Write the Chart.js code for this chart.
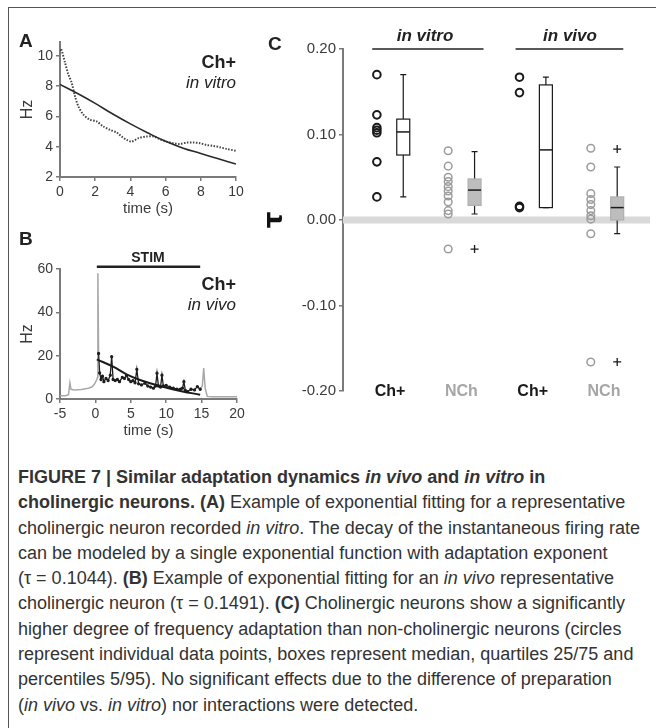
<!DOCTYPE html>
<html>
<head>
<meta charset="utf-8">
<script src="https://cdn.jsdelivr.net/npm/chart.js@4.4.0/dist/chart.umd.min.js"></script>
<style>
    body { margin: 0; width: 656px; height: 728px; overflow: hidden; position: relative; background: #fff;
           font-family: "Liberation Sans", Arial, sans-serif; color: #222; }
    #marco { position: absolute; left: 8px; top: 7px; width: 700px; height: 800px;
             border-left: 1px solid #555; border-top: 1px solid #555; }
    canvas { position: absolute; }
    .txt { position: absolute; white-space: nowrap; line-height: 1; }
    .letra { font-weight: bold; font-size: 19px; }
    #leyenda { position: absolute; left: 18px; top: 465px; font-size: 18px; line-height: 25.3px;
               color: #333; white-space: nowrap; }
</style>
</head>
<body>
<div id="marco"></div>

<canvas id="graficoA" width="260" height="200" style="left:0;top:30px"></canvas>
<canvas id="graficoB" width="260" height="200" style="left:0;top:250px"></canvas>
<canvas id="graficoC" width="396" height="420" style="left:260px;top:0"></canvas>

<div class="txt letra" style="left:19px;top:31px">A</div>
<div class="txt" style="left:150px;width:86px;top:53px;font-weight:bold;font-size:18px;text-align:right">Ch+</div>
<div class="txt" style="left:150px;width:86px;top:74px;font-style:italic;font-size:17px;text-align:right">in vitro</div>

<div class="txt letra" style="left:19px;top:229px">B</div>
<div class="txt" style="left:108px;width:80px;top:250px;font-weight:bold;font-size:14px;text-align:center">STIM</div>
<div class="txt" style="left:150px;width:86px;top:275px;font-weight:bold;font-size:18px;text-align:right">Ch+</div>
<div class="txt" style="left:150px;width:86px;top:296px;font-style:italic;font-size:17px;text-align:right">in vivo</div>

<div class="txt letra" style="left:268px;top:34px">C</div>
<div class="txt" style="left:375px;width:100px;top:27px;font-weight:bold;font-style:italic;font-size:17px;text-align:center">in vitro</div>
<div class="txt" style="left:520px;width:100px;top:27px;font-weight:bold;font-style:italic;font-size:17px;text-align:center">in vivo</div>

<div id="leyenda">
<b>FIGURE 7 | Similar adaptation dynamics <i>in vivo</i> and <i>in vitro</i> in</b><br>
<b>cholinergic neurons. (A)</b> Example of exponential fitting for a representative<br>
cholinergic neuron recorded <i>in vitro</i>. The decay of the instantaneous firing rate<br>
can be modeled by a single exponential function with adaptation exponent<br>
(τ = 0.1044). <b>(B)</b> Example of exponential fitting for an <i>in vivo</i> representative<br>
cholinergic neuron (τ = 0.1491). <b>(C)</b> Cholinergic neurons show a significantly<br>
higher degree of frequency adaptation than non-cholinergic neurons (circles<br>
represent individual data points, boxes represent median, quartiles 25/75 and<br>
percentiles 5/95). No significant effects due to the difference of preparation<br>
(<i>in vivo</i> vs. <i>in vitro</i>) nor interactions were detected.
</div>

<script>
// Panel A: frecuencia instantanea in vitro y su ajuste
const tiempoA = [0, 0.06, 0.28, 0.47, 0.66, 0.85, 1.04, 1.33, 1.7, 2.08, 2.46, 2.84, 3.22, 3.5, 3.79,
    4.07, 4.45, 4.92, 5.3, 5.68, 6.06, 6.44, 6.8, 7.2, 7.58, 7.95, 8.33, 8.71, 9.09, 9.47, 10];
const frecuenciaA = [10.3, 10.45, 9.56, 8.78, 8.23, 7.33, 6.67, 6.11, 5.78, 5.67, 5.33, 5.11, 4.93, 4.67, 4.45,
    4.33, 4.56, 4.67, 4.67, 4.49, 4.33, 4.23, 4.18, 4.27, 4.27, 4.23, 4.11, 4.05, 3.96, 3.85, 3.73];
const tiempoAjusteA = [0, 1, 2, 3, 4, 5, 6, 7, 8, 9, 10];
const ajusteA = [8.1, 7.5, 6.85, 6.15, 5.5, 4.9, 4.35, 3.9, 3.55, 3.2, 2.85];
const ticksXA = [0, 2, 4, 6, 8, 10];
const ticksYA = [2, 4, 6, 8, 10];

// Panel B: registro in vivo
const tiempoGrisB = [-5, -4.2, -3.8, -3.6, -3.45, -3, -2, -1, -0.5, -0.1, 0.2, 0.3, 0.35, 0.45];
const frecuenciaGrisB = [1.5, 1.5, 2, 7.5, 4.5, 4.2, 4.4, 5, 5.5, 7, 9, 10, 58, 21];
const tiempoGrisFinB = [14.8, 15.1, 15.3, 15.5, 15.8, 16.5, 20];
const frecuenciaGrisFinB = [4.5, 6, 14.3, 5, 1.2, 1, 1];
const tiempoNegroB = [0.45, 0.6, 0.8, 1.0, 1.2, 1.5, 1.8, 2.1, 2.3, 2.5, 2.8, 3.1, 3.4, 3.8, 4.1, 4.4, 4.7,
    5.0, 5.3, 5.6, 5.85, 6.1, 6.5, 7.0, 7.4, 7.8, 8.2, 8.5, 8.7, 8.9, 9.2, 9.4, 9.6, 10.0, 10.5, 11.0,
    11.5, 12.0, 12.3, 12.5, 12.7, 13.0, 13.5, 14.0, 14.4, 14.8];
const frecuenciaNegroB = [21, 12, 9, 10.5, 8, 9.5, 8.5, 11, 19.5, 9, 8.5, 9, 8, 10, 9.5, 10.8, 9,
    8, 8.5, 7.5, 13.7, 7, 6.5, 7.3, 6, 5.5, 5, 6, 11.9, 6, 5.5, 11, 6, 6.3, 5.5, 5,
    4.6, 4.5, 5, 8, 4, 3.4, 4.5, 4.2, 5.7, 4.5];
const tiempoAjusteB = [0.2, 2.5, 4.4, 6.3, 9.1, 12.0, 14.8];
const ajusteB = [18.3, 14.9, 11.4, 8.8, 6.0, 3.7, 2.0];
const estimuloB = [0.2, 14.8];
const ticksXB = [-5, 0, 5, 10, 15, 20];
const ticksYB = [0, 20, 40, 60];

// Panel C: tau por grupo
const categoriasC = ["Ch+", "NCh", "Ch+", "NCh"];
const coloresCategoriasC = ["#1a1a1a", "#a6a6a6", "#1a1a1a", "#a6a6a6"];
const puntosChVitro = [0.170, 0.123, 0.108, 0.105, 0.102, 0.068, 0.027];
const puntosNChVitro = [0.081, 0.063, 0.050, 0.045, 0.039, 0.034, 0.028, 0.021, 0.011, 0.007, -0.034];
const puntosChVivo = [0.167, 0.149, 0.016, 0.0145];
const puntosNChVivo = [0.084, 0.062, 0.031, 0.024, 0.018, 0.011, 0.005, 0.001, -0.016, -0.166];
// [p5, q25, mediana, q75, p95]
const cajasC = [
    [0.027, 0.076, 0.103, 0.118, 0.170],
    [0.007, 0.017, 0.035, 0.048, 0.080],
    [0.0145, 0.0145, 0.082, 0.158, 0.167],
    [-0.016, 0.000, 0.0145, 0.027, 0.062],
];
const atipicosC = [[], [-0.034], [], [0.083, -0.166]];
const ticksYC = [-0.2, -0.1, 0, 0.1, 0.2];
const tramoVitro = [0.75, 2.31];
const tramoVivo = [2.76, 4.27];

const puntos = (xs, ys) => xs.map((x, i) => ({ x: x, y: ys[i] }));
const GRIS_EJE = "#7a7a7a";

function eje(pos, min, max, ticks, tam, titulo, fuenteTitulo, padTitulo, tamTicks) {
    return {
        type: "linear",
        position: pos,
        min: min,
        max: max,
        afterBuildTicks: (escala) => {
            escala.ticks = ticks.map((v) => ({ value: v }));
        },
        afterFit: (escala) => {
            if (pos === "left") escala.width = tam;
            else escala.height = tam;
        },
        grid: { drawOnChartArea: false, drawTicks: true, tickLength: 4, color: GRIS_EJE, lineWidth: 1.5 },
        border: { display: true, color: GRIS_EJE, width: 2 },
        ticks: { color: "#3a3a3a", font: { family: "Liberation Sans", size: tamTicks || 14 }, padding: 3 },
        title: {
            display: !!titulo,
            text: titulo,
            color: "#3a3a3a",
            font: fuenteTitulo,
            padding: padTitulo,
        },
    };
}

const baseOpciones = {
    responsive: false,
    animation: false,
    plugins: { legend: { display: false }, tooltip: { enabled: false } },
};

new Chart(document.getElementById("graficoA").getContext("2d"), {
    type: "line",
    data: {
        datasets: [
            {
                data: puntos(tiempoAjusteA, ajusteA),
                borderColor: "#2a2a2a",
                borderWidth: 1.6,
                pointRadius: 0,
                tension: 0.4,
            },
            {
                data: puntos(tiempoA, frecuenciaA),
                borderColor: "#444",
                borderWidth: 2,
                borderDash: [1.5, 1.5],
                pointRadius: 0,
                tension: 0.3,
            },
        ],
    },
    options: {
        ...baseOpciones,
        layout: { padding: { top: 12, right: 24, left: 0, bottom: 0 } },
        scales: {
            x: eje("bottom", 0, 10, ticksXA, 53, "time (s)", { family: "Liberation Sans", size: 15 }, { top: 0, bottom: 12 }),
            y: eje("left", 2, 10.9, ticksYA, 60, "Hz", { family: "Liberation Sans", size: 16 }, { top: 18, bottom: 0 }),
        },
    },
});

new Chart(document.getElementById("graficoB").getContext("2d"), {
    type: "line",
    data: {
        datasets: [
            {
                data: puntos(tiempoAjusteB, ajusteB),
                borderColor: "#1a1a1a",
                borderWidth: 2,
                pointRadius: 0,
                tension: 0.4,
            },
            {
                data: puntos(tiempoNegroB, frecuenciaNegroB),
                borderColor: "#1e1e1e",
                backgroundColor: "#1e1e1e",
                borderWidth: 1.3,
                pointRadius: 1,
            },
            {
                data: puntos(tiempoGrisB, frecuenciaGrisB),
                borderColor: "#a8a8a8",
                borderWidth: 1.5,
                pointRadius: 0,
            },
            {
                data: puntos(tiempoGrisFinB, frecuenciaGrisFinB),
                borderColor: "#a8a8a8",
                borderWidth: 1.5,
                pointRadius: 0,
            },
            {
                // barra de estimulo
                data: estimuloB.map((t) => ({ x: t, y: 61 })),
                borderColor: "#222",
                borderWidth: 2.5,
                pointRadius: 0,
                clip: false,
            },
        ],
    },
    options: {
        ...baseOpciones,
        layout: { padding: { top: 19, right: 23, left: 0, bottom: 0 } },
        scales: {
            x: eje("bottom", -5, 20, ticksXB, 51, "time (s)", { family: "Liberation Sans", size: 15 }, { top: 0, bottom: 10 }),
            y: eje("left", 0, 60, ticksYB, 60, "Hz", { family: "Liberation Sans", size: 16 }, { top: 18, bottom: 0 }),
        },
    },
});

// Cajas del panel C dibujadas con las escalas del grafico
const pluginCajas = {
    id: "cajas",
    afterDatasetsDraw(chart) {
        const { ctx, scales } = chart;
        cajasC.forEach((c, i) => {
            const x = scales.x.getPixelForValue(i + 1 + 0.185);
            const [p5, q1, med, q3, p95] = c.map((v) => scales.y.getPixelForValue(v));
            const medio = 6.5;
            const tapa = 3;
            ctx.save();
            ctx.strokeStyle = "#1a1a1a";
            ctx.lineWidth = 1.2;
            ctx.beginPath();
            ctx.moveTo(x, p95); ctx.lineTo(x, q3);
            ctx.moveTo(x, q1); ctx.lineTo(x, p5);
            ctx.moveTo(x - tapa, p95); ctx.lineTo(x + tapa, p95);
            ctx.moveTo(x - tapa, p5); ctx.lineTo(x + tapa, p5);
            ctx.stroke();
            const gris = i % 2 === 1;
            ctx.fillStyle = gris ? "#bdbdbd" : "#ffffff";
            ctx.fillRect(x - medio, q3, medio * 2, q1 - q3);
            ctx.strokeStyle = gris ? "#b0b0b0" : "#1a1a1a";
            ctx.strokeRect(x - medio, q3, medio * 2, q1 - q3);
            ctx.strokeStyle = "#1a1a1a";
            ctx.lineWidth = 1.5;
            ctx.beginPath();
            ctx.moveTo(x - medio, med); ctx.lineTo(x + medio, med);
            ctx.stroke();
            ctx.restore();
        });
    },
};

const gruposPuntos = [puntosChVitro, puntosNChVitro, puntosChVivo, puntosNChVivo];
const datasetsC = gruposPuntos.map((lista, i) => ({
    type: "scatter",
    data: lista.map((v) => ({ x: i + 1 - 0.185, y: v })),
    pointStyle: "circle",
    pointRadius: 3.8,
    borderWidth: i % 2 === 0 ? 2 : 1.5,
    borderColor: i % 2 === 0 ? "#1a1a1a" : "#9c9c9c",
    backgroundColor: "rgba(255,255,255,0)",
}));
atipicosC.forEach((lista, i) => {
    datasetsC.push({
        type: "scatter",
        data: lista.map((v) => ({ x: i + 1 + 0.185, y: v })),
        pointStyle: "cross",
        pointRadius: 4,
        borderWidth: 1.3,
        borderColor: "#1a1a1a",
    });
});
[tramoVitro, tramoVivo].forEach((tramo) => {
    datasetsC.push({
        type: "line",
        data: tramo.map((x) => ({ x: x, y: 0.2 })),
        borderColor: "#222",
        borderWidth: 1.5,
        pointRadius: 0,
        clip: false,
    });
});
// banda gris en cero
datasetsC.push({
    type: "line",
    data: [{ x: 0.34, y: 0 }, { x: 4.645, y: 0 }],
    borderColor: "#d9d9d9",
    borderWidth: 7,
    pointRadius: 0,
    order: 10,
});

const ejeYC = eje("left", -0.2, 0.2, ticksYC, 83, "τ", { family: "DejaVu Sans", size: 26, weight: "bold" }, { top: 0, bottom: 0 }, 15);
ejeYC.ticks.callback = (v) => v.toFixed(2);
ejeYC.title.color = "#111";

new Chart(document.getElementById("graficoC").getContext("2d"), {
    type: "scatter",
    data: { datasets: datasetsC },
    options: {
        ...baseOpciones,
        layout: { padding: { top: 49, right: 0, left: 0, bottom: 0 } },
        scales: {
            x: {
                type: "linear",
                position: "bottom",
                min: 0.34,
                max: 4.645,
                afterBuildTicks: (escala) => {
                    escala.ticks = categoriasC.map((c, i) => ({ value: i + 1 }));
                },
                afterFit: (escala) => {
                    escala.height = 29;
                },
                grid: { display: false, drawTicks: false },
                border: { display: false },
                ticks: {
                    mirror: true,
                    padding: -10,
                    font: { family: "Liberation Sans", size: 16, weight: "bold" },
                    color: (c) => coloresCategoriasC[c.index],
                    callback: (v) => categoriasC[Math.round(v) - 1],
                },
            },
            y: ejeYC,
        },
    },
    plugins: [pluginCajas],
});
</script>
</body>
</html>
